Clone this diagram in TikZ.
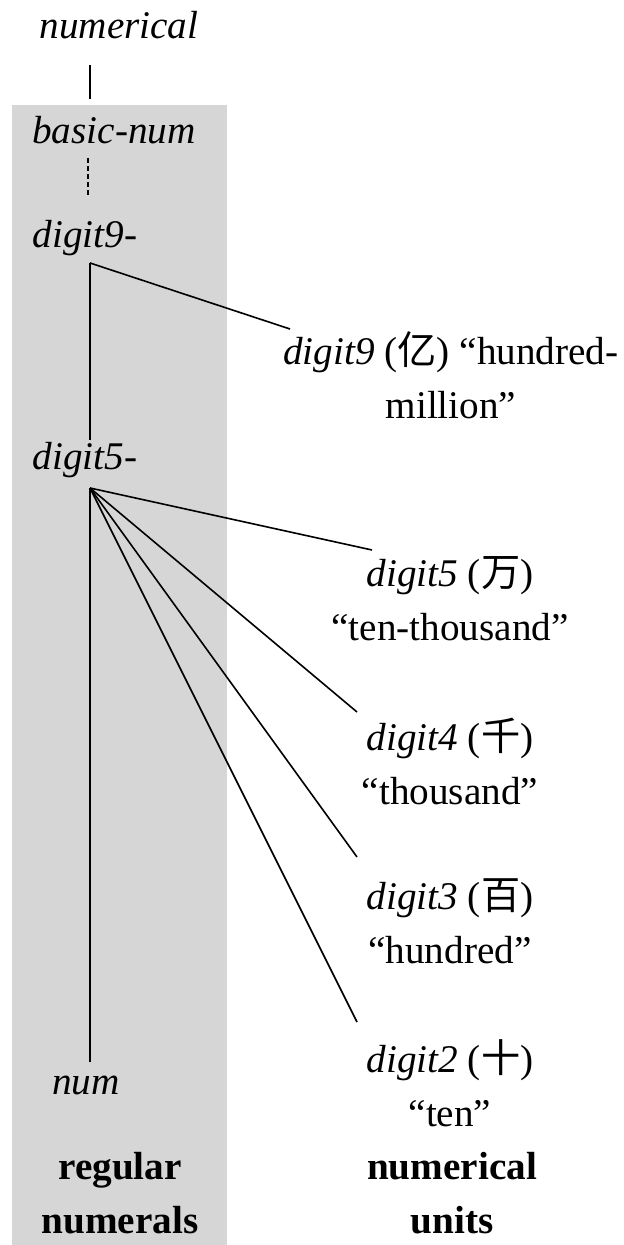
\documentclass[tikz,border=0pt]{standalone}
\usepackage{fontspec}
\setmainfont{Liberation Serif}
\newfontfamily\cjk{Noto Sans CJK SC}
\usetikzlibrary{positioning,calc}
\definecolor{Band}{RGB}{214,214,214}

\begin{document}
\begin{tikzpicture}[x=0.5pt,y=-0.5pt,line width=0.8pt,
    lbl/.style={inner sep=0pt,font=\itshape},
    unit/.style={inner sep=0pt,align=center},
    head/.style={inner sep=0pt,align=center,font=\bfseries}]
        \fontsize{19.6}{27}\selectfont
        \useasboundingbox (0,0) rectangle (623,1245);
        \fill[Band] (12,105) rectangle (227,1245);
        % left column
        \node[lbl] (top) at (119,25) {numerical};
        \node[lbl] (basic) at (114,130) {basic-num};
        \node[lbl] (d9) at (85,238) {digit9-};
        \node[lbl] (d5) at (85,460) {digit5-};
        \node[lbl] (num) at (86,1085) {num};
        \node[head] (reg) at (120,1193) {regular\\numerals};
        \coordinate (t1) at (90,65);
        \coordinate (t2) at (90,99);
        \coordinate (b1) at (88,158);
        \coordinate (b2) at (88,197);
        \coordinate (j9) at (90,263);
        \coordinate (j5) at (90,488);
        \coordinate (v9) at (90,440);
        \coordinate (vn) at (90,1062);
        \draw (t1) -- (t2);
        \draw[dash pattern=on 2.5pt off 1.5pt] (b1) -- (b2);
        \draw (j9) -- (v9);
        \draw (j5) -- (vn);
        % right column
        \node[unit] (u9) at (451,375) {\textit{digit9} ({\cjk 亿}) “hundred-\\million”};
        \coordinate (e9) at (290,329);
        \draw (j9) -- (e9);
        \foreach \n/\ch/\gl/\y/\ex/\ey in {
          5/万/ten-thousand/599/372/550,
          4/千/thousand/761/357/712,
          3/百/hundred/921/357/857,
          2/十/ten/1083/357/1022}
        {
          \node[unit] (u\n) at (450,\y) {\textit{digit\n} ({\cjk \ch})\\“\gl”};
          \coordinate (e\n) at (\ex,\ey);
          \draw (j5) -- (e\n);
        }
        \node[head] (units) at (452,1193) {numerical\\units};
      \end{tikzpicture}
\end{document}
